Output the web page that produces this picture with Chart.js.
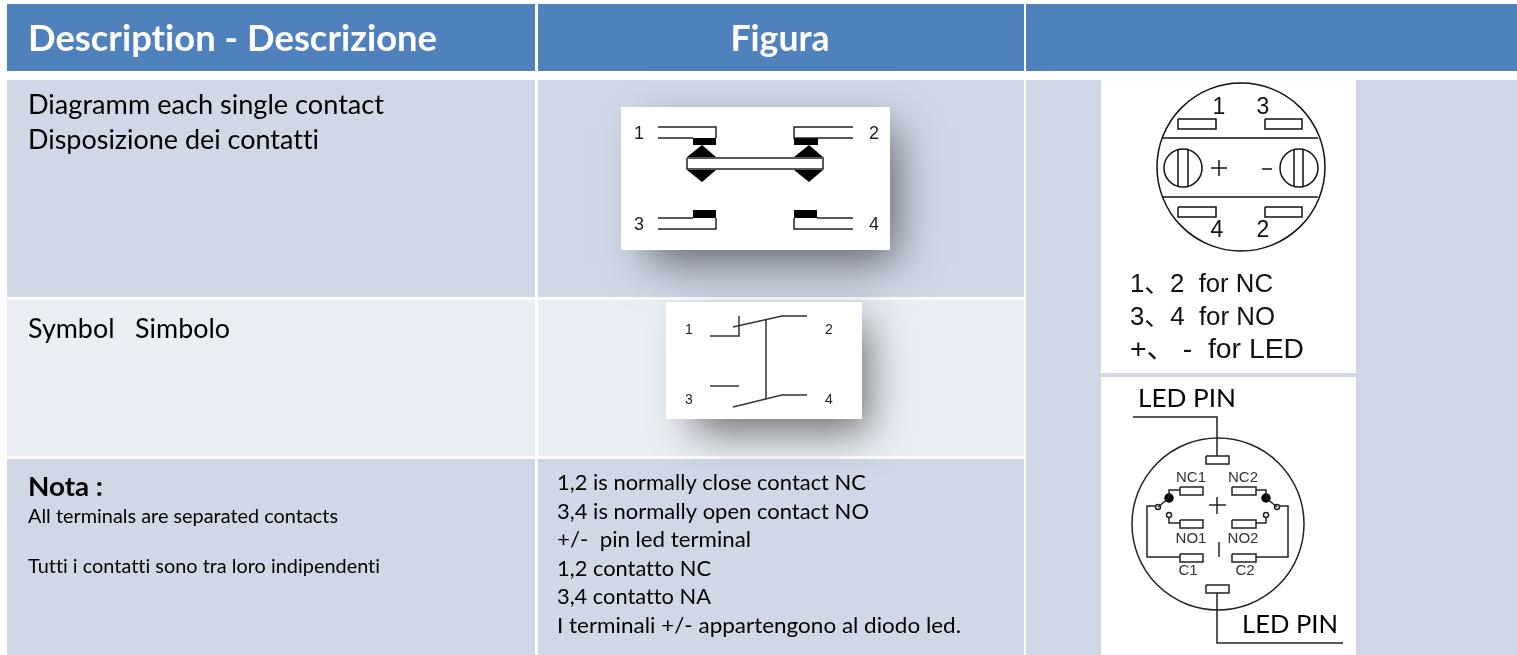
<!DOCTYPE html>
<html>
<head>
<meta charset="utf-8">
<title>Description - Descrizione</title>
<script src="https://cdn.jsdelivr.net/npm/chart.js@4"></script>
<style>
    html, body { margin: 0; padding: 0; background: #ffffff; overflow: hidden; }
    canvas { display: block; }
</style>
</head>
<body>
<canvas id="tabella" width="1517" height="655"></canvas>
<script>
// Texts of the table
const titoli = ['Description - Descrizione', 'Figura'];
const descrizioneContatti = ['Diagramm each single contact', 'Disposizione dei contatti'];
const simbolo = ['Symbol   Simbolo'];
const notaTitolo = ['Nota :'];
const notaTesti = ['All terminals are separated contacts', 'Tutti i contatti sono tra loro indipendenti'];
const legendaContatti = [
    '1,2 is normally close contact NC',
    '3,4 is normally open contact NO',
    '+/-  pin led terminal',
    '1,2 contatto NC',
    '3,4 contatto NA',
    'I terminali +/- appartengono al diodo led.'
];
const numeriContatti = ['1', '2', '3', '4'];
const numeriPannello = ['1', '3', '4', '2'];
const legendaPannello = ['1、2  for NC', '3、4  for NO', '+、 -  for LED'];
const etichettePin = ['NC1', 'NC2', 'NO1', 'NO2', 'C1', 'C2'];
const ledPin = ['LED PIN', 'LED PIN'];

// Table cells, [x0, y0, x1, y1] in page units
const celleTitolo = [[7, 4, 535, 71], [538, 4, 1024, 71], [1026, 4, 1517, 71]];
const celleScure = [[7, 80, 535, 297], [538, 80, 1024, 297], [7, 459, 535, 655], [538, 459, 1024, 655], [1026, 80, 1517, 655]];
const celleChiare = [[7, 300, 535, 456], [538, 300, 1024, 456]];
const riquadriBianchi = [[1101, 80, 1356, 373], [1101, 377, 1356, 655]];
const riquadriOmbra = [[621, 107, 890, 250], [666, 302, 862, 419]];

// Diagram of the single contact
const contattoLinee = [
    [[658, 127], [716, 127], [716, 138]],
    [[658, 138], [693, 138]],
    [[853, 127], [794, 127], [794, 138], [853, 138]],
    [[687, 158], [823, 158], [823, 169], [687, 169], [687, 158]],
    [[658, 218], [693, 218]],
    [[658, 229], [716, 229], [716, 218]],
    [[853, 218], [817, 218]],
    [[853, 229], [794, 229], [794, 218]]
];
const contattoNeri = [
    [[693, 138], [716, 138], [716, 145], [693, 145]],
    [[794, 138], [818, 138], [818, 145], [794, 145]],
    [[702, 145], [687, 157], [716, 157]],
    [[809, 145], [794, 157], [823, 157]],
    [[687, 170], [716, 170], [702, 182]],
    [[794, 170], [823, 170], [809, 182]],
    [[693, 210], [716, 210], [716, 218], [693, 218]],
    [[794, 210], [817, 210], [817, 218], [794, 218]]
];

// Symbol
const simboloLinee = [
    [[710, 336], [739, 336], [739, 316]],
    [[733, 327], [782, 316], [807, 316]],
    [[766, 320], [766, 399]],
    [[710, 386], [739, 386]],
    [[733, 407], [782, 395], [807, 395]]
];

// Panel with the screws
const pannelloLinee = [
    [[1163, 138], [1318, 138]],
    [[1163, 197], [1318, 197]],
    [[1178, 119], [1216, 119], [1216, 129], [1178, 129], [1178, 119]],
    [[1265, 119], [1302, 119], [1302, 129], [1265, 129], [1265, 119]],
    [[1178, 207], [1216, 207], [1216, 217], [1178, 217], [1178, 207]],
    [[1265, 207], [1302, 207], [1302, 217], [1265, 217], [1265, 207]],
    [[1178, 150], [1178, 186]],
    [[1188, 150], [1188, 186]],
    [[1294, 150], [1294, 186]],
    [[1303, 150], [1303, 186]],
    [[1211, 168], [1227, 168]],
    [[1219, 160], [1219, 176]],
    [[1262, 169], [1272, 169]]
];
const pannelloCerchi = [[1241, 167, 84], [1183, 168, 19], [1299, 168, 19]];

// Pin side view
const pinLinee = [
    [[1133, 417], [1217, 417], [1217, 456]],
    [[1206, 456], [1229, 456], [1229, 464], [1206, 464], [1206, 456]],
    [[1206, 585], [1229, 585], [1229, 593], [1206, 593], [1206, 585]],
    [[1217, 593], [1217, 643], [1343, 643]],
    [[1180, 487], [1203, 487], [1203, 495], [1180, 495], [1180, 487]],
    [[1232, 487], [1256, 487], [1256, 495], [1232, 495], [1232, 487]],
    [[1180, 520], [1203, 520], [1203, 528], [1180, 528], [1180, 520]],
    [[1232, 520], [1256, 520], [1256, 528], [1232, 528], [1232, 520]],
    [[1180, 554], [1203, 554], [1203, 562], [1180, 562], [1180, 554]],
    [[1232, 554], [1256, 554], [1256, 562], [1232, 562], [1232, 554]],
    [[1180, 490], [1169, 490], [1169, 498], [1158, 507]],
    [[1156, 506], [1147, 506], [1147, 557], [1180, 557]],
    [[1169, 517], [1169, 523], [1180, 523]],
    [[1256, 490], [1266, 490], [1266, 498], [1277, 507]],
    [[1280, 506], [1288, 506], [1288, 557], [1256, 557]],
    [[1266, 517], [1266, 523], [1256, 523]],
    [[1209, 505], [1226, 505]],
    [[1217, 497], [1217, 514]],
    [[1219, 542], [1219, 557]]
];
const pinCerchi = [[1218, 524, 86], [1158, 507, 2.5], [1169, 515, 2.5], [1277, 507, 2.5], [1266, 515, 2.5]];
const pinPunti = [[1169, 498, 4], [1266, 498, 4]];

// Each polyline becomes one dataset, so it goes through the chart scales
function creaLinee(linee, colore, spessore) {
    return linee.map(linea => ({
        type: 'scatter',
        data: linea.map(p => ({ x: p[0], y: p[1] })),
        showLine: true,
        borderColor: colore,
        borderWidth: spessore,
        pointRadius: 0,
        tension: 0
    }));
}

// Circles are points of a scatter dataset
function creaCerchi(cerchi, riempimento, bordo) {
    return [{
        type: 'scatter',
        data: cerchi.map(c => ({ x: c[0], y: c[1] })),
        pointRadius: cerchi.map(c => c[2]),
        pointBackgroundColor: riempimento,
        pointBorderColor: bordo,
        pointBorderWidth: 1.5
    }];
}

function rettangolo(chart, r, colore) {
    const x = chart.scales.x, y = chart.scales.y;
    const x0 = x.getPixelForValue(r[0]), y0 = y.getPixelForValue(r[1]);
    chart.ctx.fillStyle = colore;
    chart.ctx.fillRect(x0, y0, x.getPixelForValue(r[2]) - x0, y.getPixelForValue(r[3]) - y0);
}

function poligono(chart, punti, colore) {
    const ctx = chart.ctx;
    ctx.beginPath();
    punti.forEach((p, i) => {
        const px = chart.scales.x.getPixelForValue(p[0]);
        const py = chart.scales.y.getPixelForValue(p[1]);
        if (i === 0) ctx.moveTo(px, py); else ctx.lineTo(px, py);
    });
    ctx.closePath();
    ctx.fillStyle = colore;
    ctx.fill();
}

// Cell backgrounds, white boxes and their shadows
const sfondoTabella = {
    id: 'sfondoTabella',
    beforeDatasetsDraw(chart) {
        const ctx = chart.ctx;
        celleTitolo.forEach(r => rettangolo(chart, r, '#4f81bd'));
        celleScure.forEach(r => rettangolo(chart, r, '#d0d8e8'));
        celleChiare.forEach(r => rettangolo(chart, r, '#e9edf4'));
        riquadriBianchi.forEach(r => rettangolo(chart, r, '#ffffff'));
        riquadriOmbra.forEach(r => {
            ctx.save();
            ctx.shadowColor = 'rgba(0, 0, 0, 0.55)';
            ctx.shadowBlur = 42;
            ctx.shadowOffsetX = 6;
            ctx.shadowOffsetY = 12;
            rettangolo(chart, [r[0] + 22, r[1] + 10, r[2], r[3]], '#ffffff');
            ctx.restore();
            rettangolo(chart, r, '#ffffff');
        });
        contattoNeri.forEach(p => poligono(chart, p, '#000000'));
    }
};

// When a width is given the text is scaled horizontally to fill it
function scrivi(chart, testo, x, y, font, colore, larghezza, allinea) {
    const ctx = chart.ctx;
    ctx.save();
    ctx.font = font;
    ctx.textRendering = 'optimizeSpeed';
    ctx.fillStyle = colore;
    ctx.textAlign = allinea || 'left';
    ctx.textBaseline = 'middle';
    ctx.translate(chart.scales.x.getPixelForValue(x), chart.scales.y.getPixelForValue(y));
    if (larghezza) ctx.scale(larghezza / ctx.measureText(testo).width, 1);
    ctx.fillText(testo, 0, 0);
    ctx.restore();
}

// All the text of the page
const testiTabella = {
    id: 'testiTabella',
    afterDatasetsDraw(chart) {
        const corpo = 'Lato, sans-serif';
        const tecnico = '"Liberation Sans", "Noto Sans CJK SC", sans-serif';

        scrivi(chart, titoli[0], 28, 39, 'bold 36px ' + corpo, '#ffffff', 409);
        scrivi(chart, titoli[1], 780, 39, 'bold 36px ' + corpo, '#ffffff', 99, 'center');

        descrizioneContatti.forEach((t, i) => scrivi(chart, t, 28, 105.5 + i * 35, '27px ' + corpo, '#000000', i === 0 ? 356 : 291));
        scrivi(chart, simbolo[0], 28, 329.5, '27px ' + corpo, '#000000', 202);
        scrivi(chart, notaTitolo[0], 28, 487, 'bold 27px ' + corpo, '#000000', 75);
        scrivi(chart, notaTesti[0], 28, 517, '19.5px ' + corpo, '#000000', 310);
        scrivi(chart, notaTesti[1], 28, 567, '19.5px ' + corpo, '#000000', 352);

        const larghezzeLegenda = [309, 312, 194, 154, 154, 404];
        legendaContatti.forEach((t, i) => scrivi(chart, t, 557, 483 + i * 28.6, '22px ' + corpo, '#000000', larghezzeLegenda[i]));

        const posContatti = [[639, 134], [874, 134], [639, 225], [874, 225]];
        numeriContatti.forEach((t, i) => scrivi(chart, t, posContatti[i][0], posContatti[i][1], '18px ' + tecnico, '#222222', 0, 'center'));
        const posSimbolo = [[689, 330], [829, 330], [689, 400], [829, 400]];
        numeriContatti.forEach((t, i) => scrivi(chart, t, posSimbolo[i][0], posSimbolo[i][1], '14px ' + tecnico, '#222222', 0, 'center'));

        const posPannello = [[1219, 108], [1263, 108], [1217, 231], [1263, 231]];
        numeriPannello.forEach((t, i) => scrivi(chart, t, posPannello[i][0], posPannello[i][1], '23px ' + tecnico, '#111111', 0, 'center'));
        const larghezzePannello = [143, 145, 174];
        const fontPannello = ['25px ', '25px ', '27px '];
        legendaPannello.forEach((t, i) => scrivi(chart, t, 1130, 285 + i * 33, fontPannello[i] + tecnico, '#111111', larghezzePannello[i]));

        const posPin = [[1191, 478], [1243, 478], [1191, 539], [1243, 539], [1188, 571], [1245, 571]];
        etichettePin.forEach((t, i) => scrivi(chart, t, posPin[i][0], posPin[i][1], '15px ' + tecnico, '#333333', 0, 'center'));

        scrivi(chart, ledPin[0], 1138, 399, '25px ' + corpo, '#000000', 98);
        scrivi(chart, ledPin[1], 1242, 625, '25px ' + corpo, '#000000', 96);
    }
};

new Chart(document.getElementById('tabella').getContext('2d'), {
    type: 'scatter',
    data: {
        datasets: [
            ...creaLinee(contattoLinee, '#222222', 1.5),
            ...creaLinee(simboloLinee, '#333333', 1.5),
            ...creaLinee(pannelloLinee, '#111111', 1.5),
            ...creaCerchi(pannelloCerchi, 'rgba(0,0,0,0)', '#111111'),
            ...creaLinee(pinLinee, '#222222', 1.5),
            ...creaCerchi(pinCerchi, 'rgba(0,0,0,0)', '#222222'),
            ...creaCerchi(pinPunti, '#000000', '#000000')
        ]
    },
    options: {
        responsive: false,
        animation: false,
        layout: { padding: 0, autoPadding: false },
        plugins: { legend: { display: false }, tooltip: { enabled: false } },
        scales: {
            x: { type: 'linear', min: 0, max: 1517, display: false },
            y: { type: 'linear', min: 0, max: 655, reverse: true, display: false }
        }
    },
    plugins: [sfondoTabella, testiTabella]
});
</script>
</body>
</html>
